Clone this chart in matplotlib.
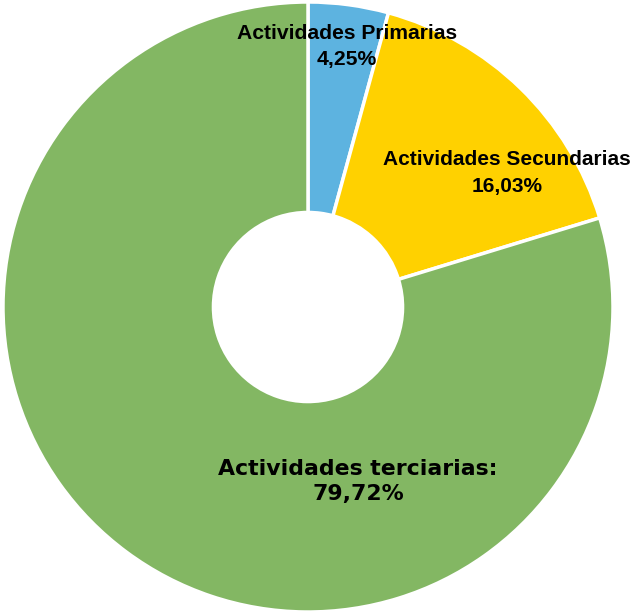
import matplotlib
matplotlib.use("Agg")
import matplotlib.pyplot as plt

categories = ["Actividades Primarias", "Actividades Secundarias", "Actividades terciarias:"]
values = [4.25, 16.03, 79.72]
value_labels = ["4,25%", "16,03%", "79,72%"]
colors = ["#5DB3E0", "#FFD100", "#83B763"]

W, H = 636, 612
fig = plt.figure(figsize=(W / 100, H / 100), dpi=100)
ax = fig.add_axes([0, 0, 1, 1])

def Y(py):
    return H - py

cx, cy, R = 308, 307, 305
wedges, _ = ax.pie(values, colors=colors, startangle=90, counterclock=False,
                   center=(cx, Y(cy)), radius=R,
                   wedgeprops=dict(width=R * 0.69, edgecolor="white", linewidth=2.5))
ax.set_xlim(0, W)
ax.set_ylim(0, H)
ax.axis("off")

ax.text(347, Y(46.5), categories[0] + "\n" + value_labels[0], ha="center", va="center",
        fontsize=15.2, fontweight="bold", family="Liberation Sans", linespacing=1.45)
ax.text(507, Y(173), categories[1] + "\n" + value_labels[1], ha="center", va="center",
        fontsize=15, fontweight="bold", family="Liberation Sans", linespacing=1.5)
ax.text(358, Y(481.5), categories[2] + "\n" + value_labels[2], ha="center", va="center",
        fontsize=15.8, fontweight="bold", family="DejaVu Sans", linespacing=1.35)

fig.savefig("out.png", dpi=100)
